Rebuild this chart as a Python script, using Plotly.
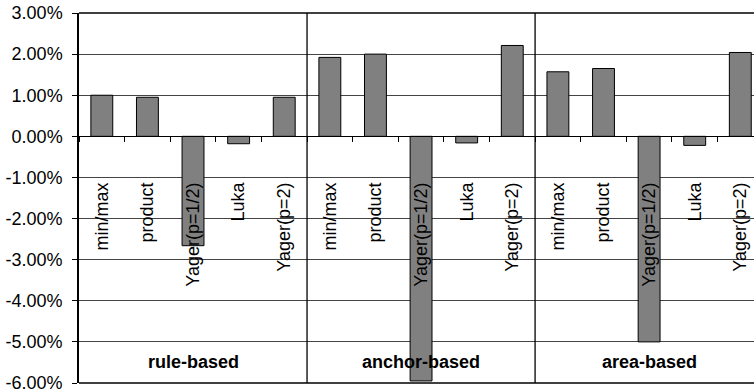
import plotly.graph_objects as go

groups = ["rule-based", "anchor-based", "area-based"]
methods = ["min/max", "product", "Yager(p=1/2)", "Luka", "Yager(p=2)"]
rule_based = [0.0100, 0.0095, -0.0266, -0.0018, 0.0095]
anchor_based = [0.0192, 0.0200, -0.0595, -0.0016, 0.0221]
area_based = [0.0157, 0.0165, -0.0500, -0.0022, 0.0204]
y_tick_vals = [0.03, 0.02, 0.01, 0.0, -0.01, -0.02, -0.03, -0.04, -0.05, -0.06]
y_tick_text = ["3.00%", "2.00%", "1.00%", "0.00%", "-1.00%", "-2.00%",
               "-3.00%", "-4.00%", "-5.00%", "-6.00%"]

values = rule_based + anchor_based + area_based
labels = methods * len(groups)
xs = list(range(len(values)))

fig = go.Figure()
fig.add_trace(go.Bar(
    x=xs, y=values,
    marker=dict(color="#808080", line=dict(color="#000000", width=1)),
    hoverinfo="skip",
))

FONT = "Liberation Sans, Arial, Helvetica, sans-serif"

n = len(methods)
annotations = []
for gi, g in enumerate(groups):
    annotations.append(dict(
        x=gi * n + (n - 1) / 2, y=-0.055, xref="x", yref="y",
        text="<b>" + g + "</b>", showarrow=False,
        font=dict(family=FONT, size=18, color="#000000"),
        xanchor="center", yanchor="middle",
    ))

shapes = []
for gi in range(1, len(groups)):
    shapes.append(dict(type="line", xref="x", yref="paper",
                       x0=gi * n - 0.5, x1=gi * n - 0.5, y0=0, y1=1,
                       line=dict(color="#000000", width=1.3)))
# top and bottom frame
shapes.append(dict(type="line", xref="paper", yref="paper", x0=0, x1=1, y0=1, y1=1,
                   line=dict(color="#000000", width=1.5)))
shapes.append(dict(type="line", xref="paper", yref="paper", x0=0, x1=1, y0=0, y1=0,
                   line=dict(color="#000000", width=1.5)))

ymin, ymax = -0.06, 0.03
fig.update_layout(
    template="none",
    width=754, height=392,
    margin=dict(l=79, r=0, t=13, b=9, autoexpand=False),
    paper_bgcolor="white", plot_bgcolor="white",
    showlegend=False, bargap=0.52,
    font=dict(family=FONT, size=17, color="#000000"),
    annotations=annotations, shapes=shapes,
    xaxis=dict(
        automargin=False,
        range=[-0.5, 14.3],
        tickvals=xs, ticktext=labels, tickangle=-90,
        tickfont=dict(family=FONT, size=18, color="#000000"),
        anchor="free", position=(0 - ymin) / (ymax - ymin),
        showline=True, linecolor="#000000", linewidth=1,
        ticks="", ticklabelstandoff=38, ticklabeloverflow="allow",
        showgrid=False, zeroline=False,
        minor=dict(tick0=0.5, dtick=1, ticks="outside", ticklen=5,
                   tickcolor="#000000", tickwidth=1, showgrid=False),
        fixedrange=True,
    ),
    yaxis=dict(
        automargin=False,
        range=[ymin, ymax],
        tickvals=y_tick_vals, ticktext=y_tick_text,
        tickfont=dict(family=FONT, size=18, color="#000000"),
        showline=True, linecolor="#000000", linewidth=1.5,
        ticks="outside", ticklen=5, tickcolor="#000000",
        showgrid=True, gridcolor="#444444", gridwidth=1,
        zeroline=False, ticklabelstandoff=6, ticklabeloverflow="allow",
        fixedrange=True,
    ),
)

fig.write_html(
    "out.html",
    config={"displayModeBar": False},
    post_script="document.body.style.margin='0';document.body.style.overflow='hidden';",
)
